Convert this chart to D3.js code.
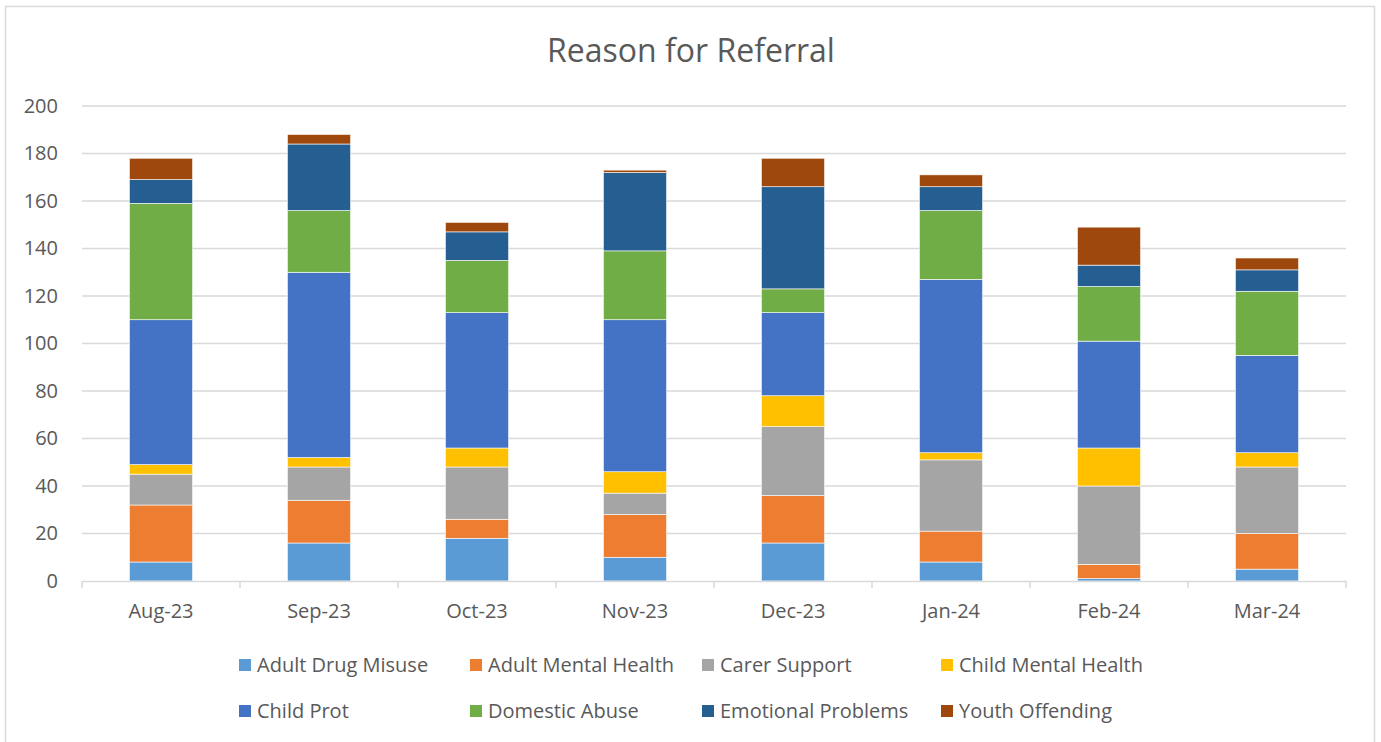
<!DOCTYPE html>
<meta charset="utf-8">
<head>
<style>
  body { margin: 0; background: #fff; }
  text { font-family: "Open Sans", Lato, sans-serif; fill: #595959; }
</style>
</head>
<body>
<script src="https://d3js.org/d3.v7.min.js"></script>
<div id="chart"></div>
<script>
// categories and series
var months = ["Aug-23", "Sep-23", "Oct-23", "Nov-23", "Dec-23", "Jan-24", "Feb-24", "Mar-24"];
var seriesNames = ["Adult Drug Misuse", "Adult Mental Health", "Carer Support", "Child Mental Health",
                   "Child Prot", "Domestic Abuse", "Emotional Problems", "Youth Offending"];
var adultDrugMisuse   = [8, 16, 18, 10, 16, 8, 1, 5];
var adultMentalHealth = [24, 18, 8, 18, 20, 13, 6, 15];
var carerSupport      = [13, 14, 22, 9, 29, 30, 33, 28];
var childMentalHealth = [4, 4, 8, 9, 13, 3, 16, 6];
var childProt         = [61, 78, 57, 64, 35, 73, 45, 41];
var domesticAbuse     = [49, 26, 22, 29, 10, 29, 23, 27];
var emotionalProblems = [10, 28, 12, 33, 43, 10, 9, 9];
var youthOffending    = [9, 4, 4, 1, 12, 5, 16, 5];
var yTicks = [0, 20, 40, 60, 80, 100, 120, 140, 160, 180, 200];
var colors = ["#5b9bd5", "#ed7d31", "#a5a5a5", "#ffc000", "#4472c4", "#70ad47", "#255e91", "#9e480e"];

var allSeries = [adultDrugMisuse, adultMentalHealth, carerSupport, childMentalHealth,
                 childProt, domesticAbuse, emotionalProblems, youthOffending];

// build table for d3.stack
var table = months.map(function(m, i) {
  var row = {month: m};
  seriesNames.forEach(function(s, j) { row[s] = allSeries[j][i]; });
  return row;
});

var W = 1381, H = 742;
var margin = {top: 106, right: 35, bottom: 161, left: 82};
var width = W - margin.left - margin.right,
    height = H - margin.top - margin.bottom;

var svg = d3.select("#chart").append("svg")
    .attr("width", W)
    .attr("height", H);

// outer border
svg.append("rect")
  .attr("x", 5.5).attr("y", 6.5)
  .attr("width", 1369).attr("height", 745)
  .attr("fill", "none")
  .attr("stroke", "#d9d9d9")
  .attr("stroke-width", 1.5);

// title
svg.append("text")
  .attr("x", 691).attr("y", 62)
  .attr("text-anchor", "middle")
  .attr("font-size", "32px")
  .text("Reason for Referral");

var g = svg.append("g")
  .attr("transform", "translate(" + margin.left + "," + margin.top + ")");

var x = d3.scaleBand()
  .domain(months)
  .range([0, width])
  .paddingInner(0.6)
  .paddingOuter(0.3);

var y = d3.scaleLinear()
  .domain([0, 200])
  .range([height, 0]);

// gridlines
g.append("g")
  .selectAll("line")
  .data(yTicks.slice(1))
  .enter().append("line")
    .attr("x1", 0).attr("x2", width)
    .attr("y1", function(d) { return y(d); })
    .attr("y2", function(d) { return y(d); })
    .attr("stroke", "#d9d9d9")
    .attr("stroke-width", 1.5);

// y axis labels
var yAxis = g.append("g")
  .call(d3.axisLeft(y).tickValues(yTicks).tickSize(0).tickPadding(24));
yAxis.select(".domain").remove();
yAxis.selectAll("text")
  .attr("font-size", "20px")
  .style("font-family", "'Open Sans', Lato, sans-serif")
  .attr("fill", "#595959");

// stacked bars
var stack = d3.stack().keys(seriesNames);
var layers = stack(table);

g.append("g")
  .selectAll("g")
  .data(layers)
  .enter().append("g")
    .attr("fill", function(d, i) { return colors[i]; })
  .selectAll("rect")
  .data(function(d) { return d; })
  .enter().append("rect")
    .attr("x", function(d) { return x(d.data.month); })
    .attr("y", function(d) { return y(d[1]); })
    .attr("width", x.bandwidth())
    .attr("height", function(d) { return y(d[0]) - y(d[1]); })
    .attr("stroke", "#fff")
    .attr("stroke-width", 0.6);

// x axis
var xAxis = g.append("g")
  .attr("transform", "translate(0," + height + ")")
  .call(d3.axisBottom(x).tickSize(0).tickPadding(23));
xAxis.select(".domain").attr("stroke", "#d9d9d9").attr("stroke-width", 1.5);
xAxis.selectAll("text")
  .attr("font-size", "20px")
  .style("font-family", "'Open Sans', Lato, sans-serif")
  .attr("fill", "#595959");

// tick marks on category boundaries
var step = x.step();
g.append("g")
  .selectAll("line")
  .data(d3.range(months.length + 1))
  .enter().append("line")
    .attr("x1", function(i) { return i * step; })
    .attr("x2", function(i) { return i * step; })
    .attr("y1", height)
    .attr("y2", height + 7)
    .attr("stroke", "#d9d9d9")
    .attr("stroke-width", 1.5);

// legend
var legendX = [239, 470, 702, 941];
var legendY = [665, 711];
var legend = svg.append("g").attr("class", "legend");
var items = legend.selectAll("g")
  .data(seriesNames)
  .enter().append("g")
    .attr("transform", function(d, i) {
      return "translate(" + legendX[i % 4] + "," + legendY[Math.floor(i / 4)] + ")";
    });
items.append("rect")
  .attr("x", 0).attr("y", -6)
  .attr("width", 12).attr("height", 12)
  .attr("fill", function(d, i) { return colors[i]; });
items.append("text")
  .attr("x", 18)
  .attr("dy", "0.35em")
  .attr("font-size", "20px")
  .text(function(d) { return d; });
</script>
</body>
